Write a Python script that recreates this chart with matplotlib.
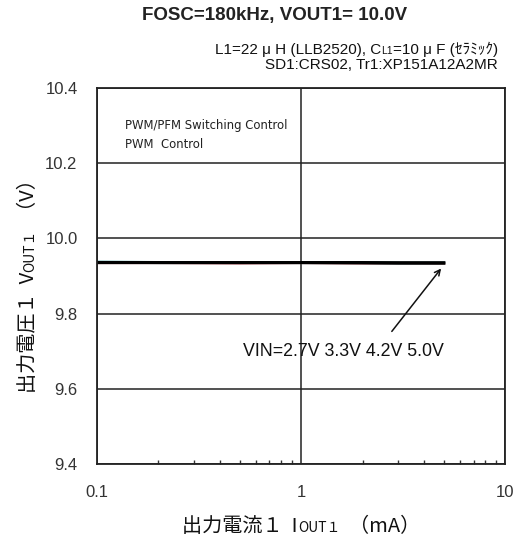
import matplotlib
matplotlib.use('Agg')
import matplotlib.pyplot as plt
import numpy as np

# data
iout = [0.1, 0.2, 0.5, 1.0, 2.0, 3.0, 5.0]
vin_labels = ['2.7V', '3.3V', '4.2V', '5.0V']
vout = {
    '2.7V': [9.936, 9.936, 9.935, 9.936, 9.935, 9.935, 9.934],
    '3.3V': [9.937, 9.936, 9.936, 9.936, 9.936, 9.935, 9.935],
    '4.2V': [9.936, 9.936, 9.936, 9.936, 9.935, 9.935, 9.935],
    '5.0V': [9.936, 9.936, 9.936, 9.936, 9.936, 9.935, 9.935],
}
colors = ['#c0303a', '#2a8a8a', '#333333', '#000000']
yticks = [9.4, 9.6, 9.8, 10.0, 10.2, 10.4]
xticks = [0.1, 1, 10]
xticklabels = ['0.1', '1', '10']

jp = ['Noto Sans CJK JP', 'DejaVu Sans']
lat_jp = ['Liberation Sans', 'Noto Sans CJK JP', 'DejaVu Sans']
plt.rcParams['font.family'] = lat_jp

fig = plt.figure(figsize=(5.16, 5.44), dpi=100)
ax = fig.add_axes([0.188, 0.147, 0.791, 0.691])

for lab, c in zip(vin_labels, colors):
    ax.plot(iout, vout[lab], color=c, lw=2.2)

ax.set_xscale('log')
ax.set_xlim(0.1, 10)
ax.set_ylim(9.4, 10.4)
ax.set_xticks(xticks)
ax.set_xticklabels(xticklabels)
ax.set_yticks(yticks)
ax.set_yticklabels(['%.1f' % v for v in yticks])
ax.grid(True, which='major', color='#222222', lw=1.1)
ax.tick_params(which='major', length=0, labelsize=12, pad=14, colors='#333333')
ax.tick_params(axis='x', which='major', pad=15)
ax.tick_params(axis='x', which='minor', direction='in', length=3, width=1, colors='#333333')
for s in ax.spines.values():
    s.set_color('#222222')
    s.set_linewidth(1.3)

ax.text(0.068, 0.89, 'PWM/PFM Switching Control', transform=ax.transAxes,
        fontsize=8.4, color='#222222', family='Liberation Sans Narrow')
ax.text(0.068, 0.84, 'PWM  Control', transform=ax.transAxes,
        fontsize=8.4, color='#222222', family='Liberation Sans Narrow')

ax.annotate('', xy=(4.95, 9.926), xytext=(2.73, 9.747),
            arrowprops=dict(arrowstyle='->', color='#111111', lw=1.1))
ax.text(1.62, 9.699, 'VIN=2.7V 3.3V 4.2V 5.0V', ha='center', va='center',
        fontsize=12.8, color='#111111')

fig.text(0.533, 0.972, 'FOSC=180kHz, VOUT1= 10.0V', ha='center', va='center',
         fontsize=13.5, fontweight='bold', color='#222222')
fig.text(0.965, 0.881, 'SD1:CRS02, Tr1:XP151A12A2MR', ha='right', va='center',
         fontsize=11, color='#111111')

fig.canvas.draw()
renderer = fig.canvas.get_renderer()


def run_text(parts, x, y, rotation=0, family=jp):
    """ place pieces of text one after another on a shared baseline """
    pos = x if rotation == 0 else y
    objs = []
    for s, size in parts:
        if rotation == 0:
            t = fig.text(pos, y, s, fontsize=size, family=family, va='baseline',
                         ha='left', color='#111111')
        else:
            t = fig.text(x, pos, s, fontsize=size, family=family, rotation=90,
                         va='baseline', ha='left', color='#111111',
                         rotation_mode='anchor')
        bb = t.get_window_extent(renderer)
        if rotation == 0:
            pos += bb.width / fig.bbox.width
        else:
            pos += bb.height / fig.bbox.height
        objs.append(t)
    return objs


def placed(parts, x, y, rotation=0, align='center', family=jp):
    tmp = run_text(parts, 0, 0, rotation, family)
    if rotation == 0:
        total = sum(t.get_window_extent(renderer).width for t in tmp) / fig.bbox.width
    else:
        total = sum(t.get_window_extent(renderer).height for t in tmp) / fig.bbox.height
    for t in tmp:
        t.remove()
    shift = total / 2 if align == 'center' else total
    if rotation == 0:
        return run_text(parts, x - shift, y, rotation, family)
    return run_text(parts, x, y - shift, rotation, family)


sub_parts = [('L1=22 \u03bc H (LLB2520), C', 11), ('L1', 7.5),
             ('=10 \u03bc F (\uff7e\uff97\uff90\uff6f\uff78)', 11)]
placed(sub_parts, 0.965, 0.9, align='right', family=lat_jp)

xl_parts = [('出力電流１  I', 14.5), ('OUT１', 10), ('  （mA）', 14.5)]
placed(xl_parts, 0.584, 0.022)

yl_parts = [('出力電圧１  V', 14.5), ('OUT１', 10), ('  （V）', 14.5)]
placed(yl_parts, 0.066, 0.483, rotation=90)

fig.savefig('out.png', dpi=100)
